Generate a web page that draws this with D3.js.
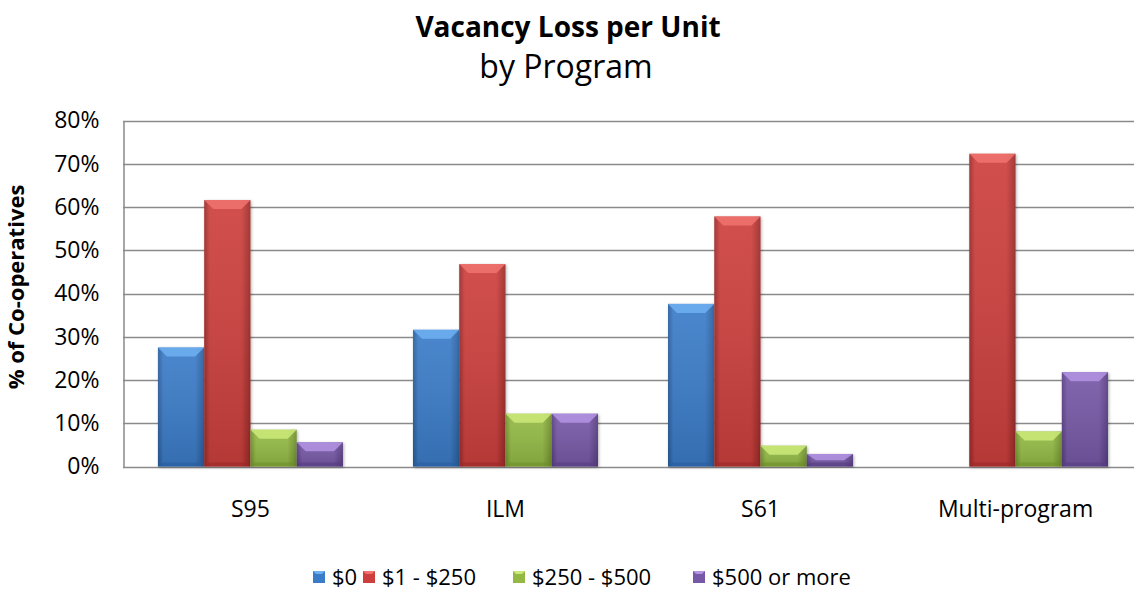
<!DOCTYPE html>
<html>
<head>
<meta charset="utf-8">
<script src="https://cdn.jsdelivr.net/npm/d3@7"></script>
<style>
  body { margin: 0; background: #fff; }
  svg { display: block; font-family: "Open Sans", Lato, sans-serif; }
</style>
</head>
<body>
<div class="chart"></div>
<script>
'use strict';

var programs = ['S95', 'ILM', 'S61', 'Multi-program'];
var bands = ['$0', '$1 - $250', '$250 - $500', '$500 or more'];
var share0 = [0.275, 0.316, 0.376, 0];
var share250 = [0.616, 0.468, 0.578, 0.723];
var share500 = [0.085, 0.122, 0.048, 0.081];
var shareMore = [0.056, 0.122, 0.029, 0.218];
var yTicks = [0, 0.1, 0.2, 0.3, 0.4, 0.5, 0.6, 0.7, 0.8];

var colors = [
  {base: '#3b7cc8', light: '#6fb0f2', dark: '#2a5d9c'},
  {base: '#cd3f3c', light: '#f07370', dark: '#9a2a28'},
  {base: '#93b944', light: '#cbea79', dark: '#6f8f2c'},
  {base: '#7658a6', light: '#b394e4', dark: '#573d82'}
];

var series = [share0, share250, share500, shareMore];

var width = 1134, height = 594;
var plot = {x0: 123, x1: 1143, y0: 120.5, y1: 466.5};

var svg = d3.select('.chart').append('svg')
  .attr('width', width)
  .attr('height', height);

var defs = svg.append('defs');
colors.forEach(function(c, i) {
  var g = defs.append('linearGradient')
    .attr('id', 'grad' + i)
    .attr('x1', 0).attr('x2', 1).attr('y1', 0).attr('y2', 0);
  g.append('stop').attr('offset', '0%').attr('stop-color', c.dark);
  g.append('stop').attr('offset', '12%').attr('stop-color', c.base);
  g.append('stop').attr('offset', '80%').attr('stop-color', c.base);
  g.append('stop').attr('offset', '100%').attr('stop-color', c.dark);
  var v = defs.append('linearGradient')
    .attr('id', 'vgrad' + i)
    .attr('x1', 0).attr('x2', 0).attr('y1', 0).attr('y2', 1);
  v.append('stop').attr('offset', '0%').attr('stop-color', '#fff').attr('stop-opacity', 0.08);
  v.append('stop').attr('offset', '100%').attr('stop-color', '#000').attr('stop-opacity', 0.12);
});
var shadow = defs.append('filter').attr('id', 'shadow')
  .attr('x', '-20%').attr('y', '-10%').attr('width', '140%').attr('height', '120%');
shadow.append('feDropShadow')
  .attr('dx', 1).attr('dy', 1).attr('stdDeviation', 1.5)
  .attr('flood-color', '#000').attr('flood-opacity', 0.3);

var x0 = d3.scaleBand()
  .domain(programs)
  .range([plot.x0, plot.x1])
  .paddingInner(0.2745)
  .paddingOuter(0.137);

var x1 = d3.scaleBand()
  .domain(bands)
  .range([0, x0.bandwidth()]);

var y = d3.scaleLinear()
  .domain([0, 0.8])
  .range([plot.y1, plot.y0]);

// gridlines
svg.append('g')
  .selectAll('line')
  .data(yTicks)
  .enter().append('line')
    .attr('x1', plot.x0)
    .attr('x2', plot.x1)
    .attr('y1', function(d) { return Math.round(y(d)) + 0.5; })
    .attr('y2', function(d) { return Math.round(y(d)) + 0.5; })
    .style('stroke', '#8a8a8a')
    .style('stroke-width', 1.5);

// y axis
var yAxis = svg.append('g')
  .attr('transform', 'translate(' + (plot.x0 + 0.5) + ',0)')
  .call(d3.axisLeft(y).tickValues(yTicks).tickFormat(d3.format('.0%')).tickSize(0).tickPadding(24));
yAxis.select('.domain').style('stroke', '#8a8a8a').style('stroke-width', 1.5);
yAxis.selectAll('text')
  .style('font-size', '23px')
  .style('fill', '#000')
  .style('font-family', '"Open Sans", sans-serif');

// bars
var groups = svg.append('g')
  .selectAll('g')
  .data(programs)
  .enter().append('g')
    .attr('transform', function(d) { return 'translate(' + x0(d) + ',0)'; });

var bars = groups.selectAll('g')
  .data(function(p, pi) {
    return bands.map(function(b, bi) {
      return {band: b, index: bi, value: series[bi][pi]};
    });
  })
  .enter().append('g')
    .filter(function(d) { return d.value > 0; });

bars.append('rect')
  .attr('x', function(d) { return x1(d.band); })
  .attr('y', function(d) { return y(d.value); })
  .attr('width', x1.bandwidth())
  .attr('height', function(d) { return y(0) - y(d.value); })
  .attr('fill', function(d) { return 'url(#grad' + d.index + ')'; })
  .attr('filter', 'url(#shadow)');

bars.append('rect')
  .attr('x', function(d) { return x1(d.band); })
  .attr('y', function(d) { return y(d.value); })
  .attr('width', x1.bandwidth())
  .attr('height', function(d) { return y(0) - y(d.value); })
  .attr('fill', function(d) { return 'url(#vgrad' + d.index + ')'; });

// bevel on the top edge
bars.append('path')
  .attr('d', function(d) {
    var bx = x1(d.band), bw = x1.bandwidth(), by = y(d.value);
    var h = Math.min(9, (y(0) - by) / 2);
    return 'M' + bx + ',' + by + 'L' + (bx + bw) + ',' + by +
      'L' + (bx + bw - 9) + ',' + (by + h) + 'L' + (bx + 9) + ',' + (by + h) + 'Z';
  })
  .attr('fill', function(d) { return colors[d.index].light; })
  .attr('opacity', 0.85);

// bottom bevel
bars.append('path')
  .attr('d', function(d) {
    var bx = x1(d.band), bw = x1.bandwidth(), by = y(0);
    var h = Math.min(4, (by - y(d.value)) / 3);
    return 'M' + bx + ',' + by + 'L' + (bx + bw) + ',' + by +
      'L' + (bx + bw - 4) + ',' + (by - h) + 'L' + (bx + 4) + ',' + (by - h) + 'Z';
  })
  .attr('fill', function(d) { return colors[d.index].dark; })
  .attr('opacity', 0.6);

// x labels
svg.append('g')
  .selectAll('text')
  .data(programs)
  .enter().append('text')
    .attr('x', function(d) { return x0(d) + x0.bandwidth() / 2; })
    .attr('y', 517)
    .attr('text-anchor', 'middle')
    .style('font-size', '23px')
    .text(function(d) { return d; });

// titles
svg.append('text')
  .attr('x', 568).attr('y', 37)
  .attr('text-anchor', 'middle')
  .style('font-size', '28px')
  .style('font-weight', 'bold')
  .text('Vacancy Loss per Unit');

svg.append('text')
  .attr('x', 566).attr('y', 78)
  .attr('text-anchor', 'middle')
  .style('font-size', '32px')
  .text('by Program');

svg.append('text')
  .attr('transform', 'translate(24,287) rotate(-90)')
  .attr('text-anchor', 'middle')
  .style('font-size', '22px')
  .style('font-weight', 'bold')
  .text('% of Co-operatives');

// legend
var legendX = [313, 363, 513, 693];
var legend = svg.append('g')
  .selectAll('g')
  .data(bands)
  .enter().append('g')
    .attr('transform', function(d, i) { return 'translate(' + legendX[i] + ',571)'; });

legend.append('rect')
  .attr('width', 12).attr('height', 12)
  .attr('fill', function(d, i) { return colors[i].base; });
legend.append('path')
  .attr('d', 'M0,0L12,0L9,3L3,3Z')
  .attr('fill', function(d, i) { return colors[i].light; });

legend.append('text')
  .attr('x', 19).attr('y', 14)
  .style('font-size', '22px')
  .text(function(d) { return d; });
</script>
</body>
</html>
